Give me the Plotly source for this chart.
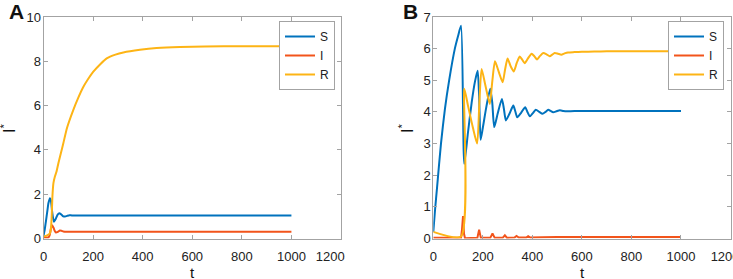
import plotly.graph_objects as go

# ---------------- data ----------------
a_s_t = [0, 5, 10, 15, 20, 26, 30, 35, 42, 50, 57, 64, 72, 80, 87, 95, 105, 114, 130, 1000]
a_s_v = [0.12, 0.4, 0.8, 1.2, 1.6, 1.82, 1.7, 1.2, 0.76, 0.9, 1.08, 1.14, 1.08, 1.0, 0.99, 1.02, 1.05, 1.04, 1.04, 1.04]

a_i_t = [0, 10, 20, 25, 30, 35, 40, 45, 50, 58, 66, 72, 80, 90, 100, 1000]
a_i_v = [0.04, 0.04, 0.05, 0.15, 0.45, 0.6, 0.5, 0.35, 0.27, 0.3, 0.36, 0.35, 0.32, 0.3, 0.31, 0.31]

a_r_t = [0, 10, 20, 26, 30, 33, 36, 40, 46, 52, 60, 70, 80, 95, 120, 140, 161, 180, 201, 230, 255, 290, 322, 389, 456, 550, 650, 800, 1000]
a_r_v = [0.09, 0.12, 0.18, 0.24, 0.45, 1.0, 1.9, 2.5, 2.8, 3.0, 3.4, 3.85, 4.3, 5.0, 5.8, 6.35, 6.85, 7.2, 7.53, 7.88, 8.13, 8.3, 8.4, 8.52, 8.6, 8.65, 8.67, 8.68, 8.68]

b_s_t = [0, 7, 15, 31, 47, 64, 87, 100, 112, 125, 140, 155, 168, 179, 185, 191, 200, 215, 230, 238, 246, 260, 277, 285, 293, 308, 323, 331, 339, 355, 371, 380, 390, 402, 414, 428, 441, 453, 464, 474, 484, 497, 511, 525, 540, 570, 1000]
b_s_v = [0.21, 0.9, 1.6, 3.0, 4.1, 5.0, 6.0, 6.4, 6.72, 2.36, 3.35, 4.3, 4.95, 5.3, 4.5, 3.12, 3.5, 4.2, 4.73, 4.3, 3.52, 3.95, 4.41, 4.1, 3.73, 3.95, 4.2, 4.02, 3.83, 3.98, 4.15, 4.0, 3.86, 3.96, 4.07, 4.0, 3.94, 4.0, 4.07, 4.03, 3.99, 4.02, 4.05, 4.03, 4.02, 4.03, 4.03]

b_i_t = [0, 112, 116, 120, 124, 128, 178, 185, 192, 230, 239, 248, 280, 289, 298, 328, 336, 345, 375, 383, 392, 422, 430, 440, 500, 600, 1000]
b_i_v = [0.02, 0.02, 0.3, 0.71, 0.15, 0.01, 0.02, 0.28, 0.02, 0.02, 0.16, 0.02, 0.02, 0.1, 0.02, 0.03, 0.08, 0.03, 0.03, 0.07, 0.03, 0.04, 0.06, 0.04, 0.05, 0.05, 0.05]

b_r_t = [0, 112, 125, 140, 160, 177, 186, 195, 210, 228, 238, 249, 265, 280, 290, 300, 312, 325, 337, 349, 359, 369, 383, 397, 408, 419, 431, 444, 457, 470, 480, 490, 503, 517, 530, 544, 570, 600, 650, 700, 1000]
b_r_v = [0.21, 0.06, 4.73, 4.2, 3.5, 3.0, 4.3, 5.36, 4.85, 4.25, 4.95, 5.6, 5.25, 4.94, 5.35, 5.69, 5.45, 5.28, 5.55, 5.75, 5.65, 5.54, 5.7, 5.84, 5.76, 5.66, 5.77, 5.86, 5.82, 5.76, 5.81, 5.86, 5.84, 5.81, 5.85, 5.88, 5.89, 5.9, 5.91, 5.92, 5.92]

series_names = ["S", "I", "R"]
x_ticks = [0, 200, 400, 600, 800, 1000, 1200]
x_tick_labels = ["0", "200", "400", "600", "800", "1000", "1200"]
a_y_ticks = [0, 2, 4, 6, 8, 10]
b_y_ticks = [0, 1, 2, 3, 4, 5, 6, 7]
panel_labels = ["A", "B"]
x_title = "t"
y_title = "I<sup>*</sup>"

# ---------------- styling ----------------
W, H = 733, 279
C_S, C_I, C_R = "#0072BD", "#F2541B", "#FDB415"
AX = "#a3a3a3"
FONT = "Liberation Sans"
NB = "\u00a0"

def px_x(p):
    return p / W

def px_y(p):
    return 1 - p / H

def shifted_labels(labels, n_pad):
    # last label sits slightly left of its tick in the reference
    out = list(labels)
    out[-1] = out[-1] + NB * n_pad
    return out

fig = go.Figure()

def add(t, v, name, color, xa, ya, legend, shape="spline"):
    fig.add_trace(go.Scatter(
        x=t, y=v, name=name, mode="lines", xaxis=xa, yaxis=ya, legend=legend,
        line=dict(color=color, width=2, shape=shape, smoothing=0.6),
    ))

add(a_s_t, a_s_v, series_names[0], C_S, "x", "y", "legend")
add(a_i_t, a_i_v, series_names[1], C_I, "x", "y", "legend")
add(a_r_t, a_r_v, series_names[2], C_R, "x", "y", "legend")
add(b_s_t, b_s_v, series_names[0], C_S, "x2", "y2", "legend2")
add(b_i_t, b_i_v, series_names[1], C_I, "x2", "y2", "legend2", shape="linear")
add(b_r_t, b_r_v, series_names[2], C_R, "x2", "y2", "legend2")

ax_common = dict(
    showline=True, linecolor=AX, linewidth=1, mirror="allticks",
    ticks="inside", ticklen=4, tickcolor=AX, tickwidth=1,
    showgrid=False, zeroline=False, automargin=False,
    ticklabeloverflow="allow",
    tickfont=dict(family=FONT, size=13, color="#222"),
)

legend_common = dict(
    xanchor="right", yanchor="top",
    bgcolor="white", bordercolor=AX, borderwidth=1,
    font=dict(family=FONT, size=12, color="#222"),
    itemwidth=30, tracegroupgap=0,
)

top, bottom = 17, 238.5
fig.update_layout(
    width=W, height=H,
    margin=dict(l=0, r=0, t=0, b=0, autoexpand=False),
    paper_bgcolor="white", plot_bgcolor="white",
    showlegend=True,
    xaxis=dict(domain=[px_x(43.5), px_x(341)], range=[0, 1200], tickvals=x_ticks,
               ticktext=shifted_labels(x_tick_labels, 6), anchor="y",
               ticklabelstandoff=6, **ax_common),
    yaxis=dict(domain=[px_y(bottom), px_y(top)], range=[0, 10], tickvals=a_y_ticks,
               anchor="x", ticklabelstandoff=-1, **ax_common),
    xaxis2=dict(domain=[px_x(433.3), px_x(730.5)], range=[0, 1200], tickvals=x_ticks,
                ticktext=shifted_labels(x_tick_labels, 3), anchor="y2",
                ticklabelstandoff=6, **ax_common),
    yaxis2=dict(domain=[px_y(bottom), px_y(top)], range=[0, 7], tickvals=b_y_ticks,
                anchor="x2", ticklabelstandoff=-1, **ax_common),
    legend=dict(x=px_x(335), y=px_y(21), **legend_common),
    legend2=dict(x=px_x(724), y=px_y(21), **legend_common),
)

annots = [
    dict(text="<b>%s</b>" % panel_labels[0], x=px_x(16), y=px_y(12), font=dict(size=21)),
    dict(text="<b>%s</b>" % panel_labels[1], x=px_x(410), y=px_y(12), font=dict(size=21)),
    dict(text=x_title, x=px_x(192.5), y=px_y(272), font=dict(size=15)),
    dict(text=x_title, x=px_x(582), y=px_y(272), font=dict(size=15)),
    dict(text=y_title, x=px_x(8), y=px_y(129), font=dict(size=16), textangle=-90),
    dict(text=y_title, x=px_x(406), y=px_y(129), font=dict(size=16), textangle=-90),
]
for a in annots:
    f = a.pop("font")
    fig.add_annotation(xref="paper", yref="paper", showarrow=False,
                       xanchor="center", yanchor="middle",
                       font=dict(family=FONT, color="#111", **f), **a)

# the page's default body margin would shift the figure; remove it
fig.write_html("out.html", config={"displayModeBar": False},
               post_script="document.body.style.margin='0';")
